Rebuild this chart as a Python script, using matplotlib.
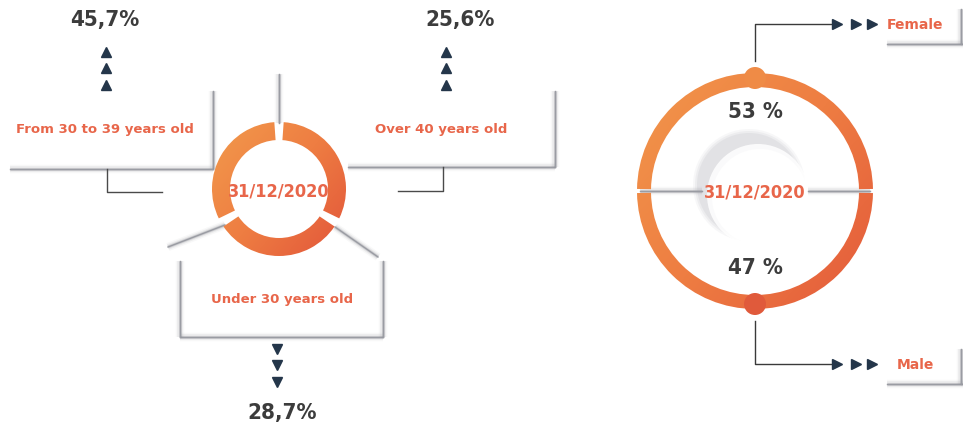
import numpy as np
import matplotlib
matplotlib.use('Agg')
import matplotlib.pyplot as plt
from matplotlib.patches import Wedge, Circle
from matplotlib.colors import LinearSegmentedColormap

# datos
fecha = '31/12/2020'
edades = ['From 30 to 39 years old', 'Over 40 years old', 'Under 30 years old']
pct_edades = ['45,7%', '25,6%', '28,7%']
generos = ['Female', 'Male']
pct_generos = ['53 %', '47 %']

naranja = '#E8664A'
gris_txt = '#3c3c3c'
azul = '#24364a'
narrow = ['DejaVu Sans', 'Liberation Sans']
cmap = LinearSegmentedColormap.from_list('naranjas', ['#F29A4C', '#EE7D42', '#E2553A'])

fig = plt.figure(figsize=(9.63, 4.31), dpi=100)
ax = fig.add_axes([0, 0, 1, 1])
ax.set_xlim(0, 963)
ax.set_ylim(431, 0)
ax.axis('off')


def gradiente(patch, cx, cy, r):
    # imagen con degradado diagonal recortada por el patch
    n = 200
    xx, yy = np.meshgrid(np.linspace(0, 1, n), np.linspace(0, 1, n))
    g = 0.55 * xx + 0.45 * yy
    im = ax.imshow(g, cmap=cmap, extent=(cx - r, cx + r, cy + r, cy - r),
                   vmin=0, vmax=1, zorder=3, interpolation='bilinear')
    ax.add_patch(patch)
    patch.set_visible(False)
    im.set_clip_path(patch)


def sombra_linea(xs, ys, z=2):
    for lw, a in [(6, 0.06), (4, 0.12), (2.2, 0.3)]:
        ax.plot(xs, ys, color='#8a8c93', lw=lw, alpha=a, zorder=z, solid_capstyle='butt')
    ax.plot(xs, ys, color='#9a9ca3', lw=1.0, zorder=z)


def num(x, y, s, size=16, color=gris_txt):
    ax.text(x, y, s, ha='center', va='center', color=color, fontsize=size,
            fontweight='bold', family=narrow, fontstretch='condensed', zorder=5)


# ---------------- donut izquierdo (edades) ----------------
cx, cy, R, ancho = 279, 190, 67, 18
cortes = [270, 30, 150]
for i in range(3):
    t1 = cortes[i] + 4
    t2 = cortes[(i + 1) % 3] - 4
    if t2 < t1:
        t2 += 360
    w = Wedge((cx, cy), R, t1, t2, width=ancho, transform=ax.transData)
    gradiente(w, cx, cy, R)

# tarjetas y divisores
sombra_linea([279, 279], [75, 124])
sombra_linea([213, 213], [92, 170])
sombra_linea([10, 213], [170, 170])
sombra_linea([348, 555], [168, 168])
sombra_linea([555, 555], [92, 168])
sombra_linea([225, 168], [226, 248])
sombra_linea([335, 378], [228, 258])
sombra_linea([180, 383], [338, 338])
sombra_linea([383, 383], [262, 338])
sombra_linea([180, 180], [262, 338])

# corchetes
ax.plot([107, 107, 162], [170, 193, 193], color='#4a4a4a', lw=1, zorder=2)
ax.plot([443, 443, 398], [168, 192, 192], color='#4a4a4a', lw=1, zorder=2)

num(cx, cy + 2, fecha, size=13, color=naranja)

pos_lbl = [(105, 130), (441, 130), (282, 300)]
pos_pct = [(105, 20), (460, 20), (282, 413)]
pos_flecha = [(106, [53, 69, 86], '^'), (446, [53, 69, 86], '^'), (277, [350, 366, 383], 'v')]
for lbl, p, (lx, ly), (px, py), (fx, fys, m) in zip(edades, pct_edades, pos_lbl, pos_pct, pos_flecha):
    ax.text(lx, ly, lbl, ha='center', va='center', color=naranja, fontsize=9.5,
            fontweight='bold', zorder=5)
    num(px, py, p)
    ax.plot([fx] * 3, fys, linestyle='none', marker=m, color=azul, markersize=7, zorder=5)

# ---------------- donut derecho (genero) ----------------
cx2, cy2, R2, ancho2 = 755, 192, 118, 14
# sombra del hueco
for r, a in [(56, 0.10), (54, 0.15), (52, 0.2)]:
    ax.add_patch(Circle((749, 186), r, color='#b8b9c0', alpha=a, zorder=2, lw=0))
ax.add_patch(Circle((758, 196), 51, color='white', alpha=0.85, zorder=2, lw=0))
ax.add_patch(Circle((760, 198), 48, color='white', zorder=2, lw=0))
sombra_linea([640, 702], [192, 192])
sombra_linea([808, 870], [192, 192])

for t1, t2 in [(181, 359), (1, 179)]:
    w = Wedge((cx2, cy2), R2, t1, t2, width=ancho2)
    gradiente(w, cx2, cy2, R2 + 14)
ax.add_patch(Circle((cx2, cy2 - R2 + 5), 11, color='#EF8B46', zorder=3, lw=0))
ax.add_patch(Circle((cx2, cy2 + R2 - 5), 11, color='#E05A3B', zorder=3, lw=0))

num(cx2, cy2 + 1, fecha, size=13, color=naranja)

for g, p, yl, yp, yk in zip(generos, pct_generos, [25, 365], [112, 268], [62, 322]):
    num(cx2, yp, p)
    ax.plot([cx2, cx2, 832], [yk, yl, yl], color='#3a3a3a', lw=1, zorder=2)
    ax.plot([837, 856, 872], [yl] * 3, linestyle='none', marker='>', color=azul,
            markersize=7, zorder=5)
    ax.text(915, yl, g, ha='center', va='center', color=naranja, fontsize=10,
            fontweight='bold', zorder=5)
    sombra_linea([887, 963], [yl + 20, yl + 20])
    sombra_linea([961, 961], [yl - 15, yl + 20])

fig.savefig('out.png', dpi=100)
